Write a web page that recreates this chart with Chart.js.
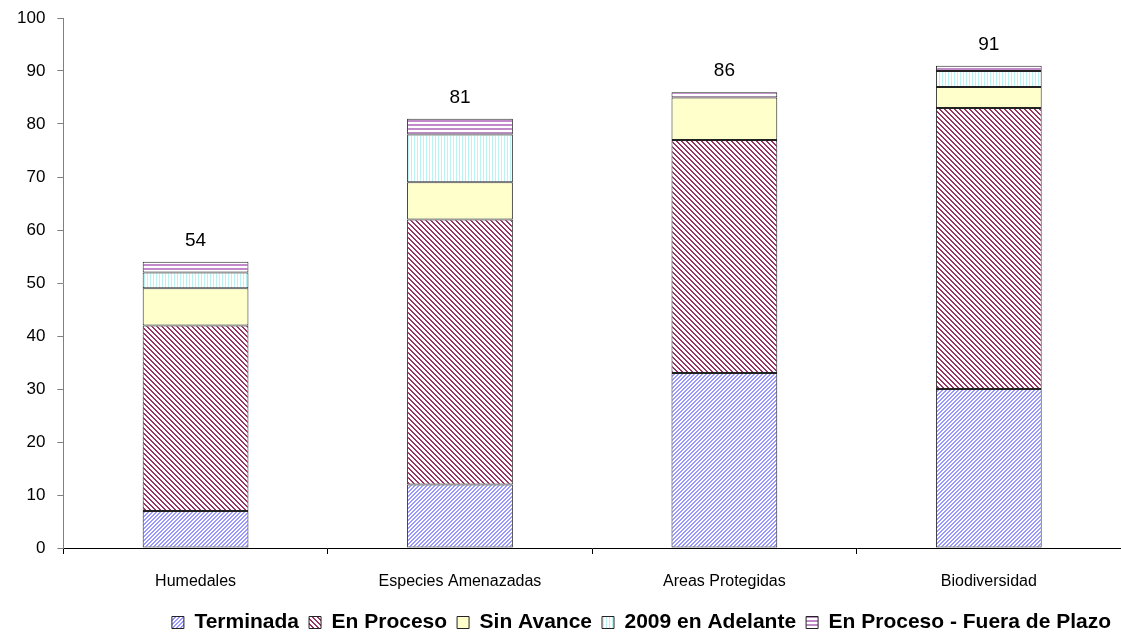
<!DOCTYPE html>
<html>
<head>
<meta charset="utf-8">
<script src="https://cdn.jsdelivr.net/npm/chart.js@4/dist/chart.umd.min.js"></script>
<style>
  html, body { margin: 0; padding: 0; background: #fff; }
  #wrap { width: 1121px; height: 643px; }
</style>
</head>
<body>
<div id="wrap"><canvas id="chart"></canvas></div>
<script>
const categories = ["Humedales", "Especies Amenazadas", "Areas Protegidas", "Biodiversidad"];
const terminada = [7, 12, 33, 30];
const enProceso = [35, 50, 44, 53];
const sinAvance = [7, 7, 8, 4];
const adelante2009 = [3, 9, 0, 3];
const fueraPlazo = [2, 3, 1, 1];
const yTicks = [0, 10, 20, 30, 40, 50, 60, 70, 80, 90, 100];

const FONT = "'Liberation Sans', Arial, sans-serif";

function makePattern(size, draw) {
  const c = document.createElement("canvas");
  c.width = size;
  c.height = size;
  const g = c.getContext("2d");
  g.fillStyle = "#fff";
  g.fillRect(0, 0, size, size);
  draw(g, size);
  return document.getElementById("chart").getContext("2d").createPattern(c, "repeat");
}

// diagonal "/" blue
const patTerminada = makePattern(4, (g, s) => {
  g.fillStyle = "#9999ff";
  for (let i = 0; i < s; i++) g.fillRect(s - 1 - i, i, 1, 1);
  for (let i = 0; i < s; i++) g.fillRect((s - i) % s, i, 1, 1);
});
// diagonal "\" plum
const patProceso = makePattern(5, (g, s) => {
  g.fillStyle = "#993366";
  for (let i = 0; i < s; i++) {
    g.fillRect(i, i, 1, 1);
    g.fillRect((i + 1) % s, i, 1, 1);
  }
});
// vertical light cyan
const pat2009 = makePattern(3, (g, s) => {
  g.fillStyle = "#b8f4f4";
  g.fillRect(0, 0, 1, s);
});
// horizontal purple
const patFuera = makePattern(4, (g, s) => {
  g.fillStyle = "#c08ac8";
  g.fillRect(0, 0, s, 2);
});

const totals = categories.map((_, i) =>
  terminada[i] + enProceso[i] + sinAvance[i] + adelante2009[i] + fueraPlazo[i]);

const totalLabels = {
  id: "totalLabels",
  afterDatasetsDraw(chart) {
    const ctx = chart.ctx;
    const x = chart.scales.x, y = chart.scales.y;
    ctx.save();
    ctx.font = "19px " + FONT;
    ctx.fillStyle = "#000";
    ctx.textAlign = "center";
    ctx.textBaseline = "middle";
    totals.forEach((t, i) => {
      ctx.fillText(String(t), x.getPixelForValue(i), y.getPixelForValue(t) - 21);
    });
    ctx.restore();
  }
};

function ds(label, data, bg) {
  return {
    label, data,
    backgroundColor: bg,
    borderColor: "#222",
    borderWidth: 1,
    borderSkipped: false,
    categoryPercentage: 0.4,
    barPercentage: 1,
  };
}

new Chart(document.getElementById("chart"), {
  type: "bar",
  data: {
    labels: categories,
    datasets: [
      ds("Terminada", terminada, patTerminada),
      ds("En Proceso", enProceso, patProceso),
      ds("Sin Avance", sinAvance, "#ffffcc"),
      ds("2009 en Adelante", adelante2009, pat2009),
      ds("En Proceso - Fuera de Plazo", fueraPlazo, patFuera),
    ],
  },
  options: {
    responsive: true,
    maintainAspectRatio: false,
    animation: false,
    layout: { padding: { top: 18, right: 0, left: 5, bottom: 0 } },
    plugins: {
      legend: {
        position: "bottom",
        align: "end",
        labels: {
          boxWidth: 12,
          boxHeight: 12,
          padding: 10,
          color: "#000",
          font: { family: FONT, size: 21, weight: "bold" },
        },
      },
      tooltip: { enabled: false },
    },
    scales: {
      x: {
        stacked: true,
        afterFit: (axis) => { axis.height = 54; },
        grid: { drawOnChartArea: false, offset: true, tickLength: 6, color: "#000" },
        border: { color: "#000" },
        ticks: {
          color: "#000",
          padding: 18,
          font: { family: FONT, size: 16 },
        },
      },
      y: {
        stacked: true,
        min: 0,
        max: 100,
        afterBuildTicks: (axis) => { axis.ticks = yTicks.map((v) => ({ value: v })); },
        afterFit: (axis) => { axis.paddingTop = 0; },
        grid: { drawOnChartArea: false, tickLength: 6, color: "#808080" },
        border: { color: "#808080" },
        ticks: {
          color: "#000",
          padding: 12,
          font: { family: FONT, size: 17 },
        },
      },
    },
  },
  plugins: [totalLabels],
});
</script>
</body>
</html>
